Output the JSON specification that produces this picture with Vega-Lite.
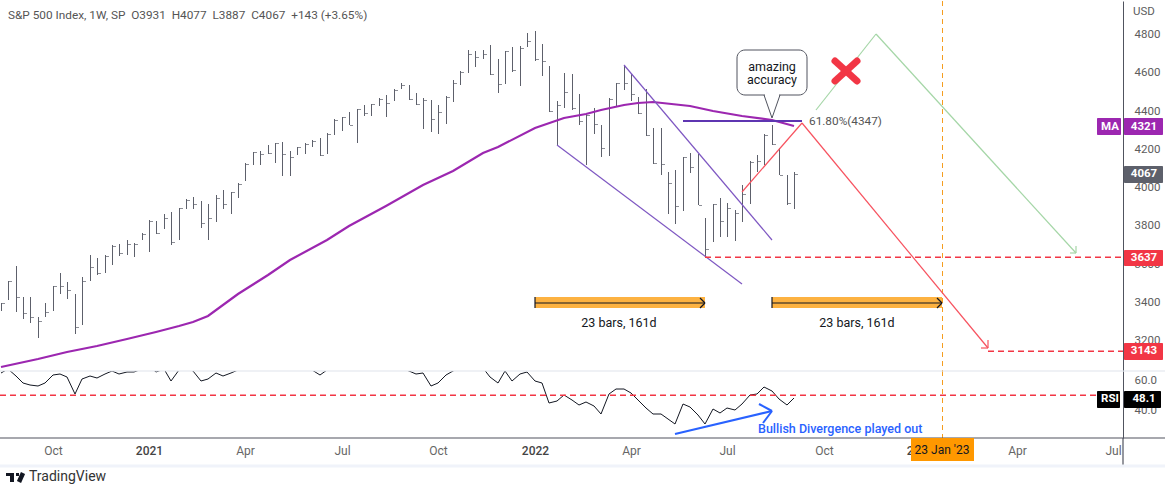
{
"$schema":"https://vega.github.io/schema/vega-lite/v6.json",
"padding":{"left":-4,"top":0,"right":0,"bottom":0},
"background":"#ffffff",
"spacing":0,
"bounds":"flush",
"config":{"view":{"stroke":null},"font":"Roboto","axis":{"grid":false,"ticks":false,"title":null}},
"datasets":{
"bars":[
{"date":"2020-08-17","high":3395,"low":3352,"close":3395,"rsi":64.9},
{"date":"2020-08-24","high":3509,"low":3411,"close":3509,"rsi":67.3},
{"date":"2020-08-31","high":3587,"low":3348,"close":3425,"rsi":62.7},
{"date":"2020-09-07","high":3425,"low":3310,"close":3341,"rsi":58.2},
{"date":"2020-09-14","high":3425,"low":3290,"close":3319,"rsi":56.9},
{"date":"2020-09-21","high":3319,"low":3212,"close":3298,"rsi":55.8},
{"date":"2020-09-28","high":3393,"low":3320,"close":3346,"rsi":58},
{"date":"2020-10-05","high":3481,"low":3353,"close":3481,"rsi":63.1},
{"date":"2020-10-12","high":3549,"low":3442,"close":3484,"rsi":63.8},
{"date":"2020-10-19","high":3502,"low":3414,"close":3460,"rsi":62.2},
{"date":"2020-10-26","high":3442,"low":3233,"close":3266,"rsi":50.9},
{"date":"2020-11-02","high":3528,"low":3278,"close":3509,"rsi":60.5},
{"date":"2020-11-09","high":3645,"low":3510,"close":3582,"rsi":62.9},
{"date":"2020-11-16","high":3627,"low":3542,"close":3550,"rsi":61.3},
{"date":"2020-11-23","high":3645,"low":3552,"close":3641,"rsi":64.2},
{"date":"2020-11-30","high":3697,"low":3594,"close":3693,"rsi":66},
{"date":"2020-12-07","high":3704,"low":3638,"close":3656,"rsi":64},
{"date":"2020-12-14","high":3721,"low":3646,"close":3704,"rsi":65.3},
{"date":"2020-12-21","high":3706,"low":3636,"close":3700,"rsi":65.3},
{"date":"2020-12-28","high":3758,"low":3725,"close":3754,"rsi":67.3},
{"date":"2021-01-04","high":3826,"low":3662,"close":3822,"rsi":69.3},
{"date":"2021-01-11","high":3822,"low":3753,"close":3761,"rsi":65.3},
{"date":"2021-01-18","high":3857,"low":3780,"close":3836,"rsi":67.3},
{"date":"2021-01-25","high":3871,"low":3695,"close":3712,"rsi":59.5},
{"date":"2021-02-01","high":3892,"low":3725,"close":3889,"rsi":66.5},
{"date":"2021-02-08","high":3936,"low":3885,"close":3932,"rsi":68.7},
{"date":"2021-02-15","high":3948,"low":3885,"close":3910,"rsi":66},
{"date":"2021-02-22","high":3927,"low":3787,"close":3810,"rsi":59.5},
{"date":"2021-03-01","high":3910,"low":3725,"close":3836,"rsi":60.7},
{"date":"2021-03-08","high":3957,"low":3819,"close":3944,"rsi":64.7},
{"date":"2021-03-15","high":3983,"low":3885,"close":3913,"rsi":62.7},
{"date":"2021-03-22","high":3975,"low":3857,"close":3972,"rsi":64.9},
{"date":"2021-03-29","high":4019,"low":3944,"close":4017,"rsi":66.5},
{"date":"2021-04-05","high":4124,"low":4033,"close":4120,"rsi":70},
{"date":"2021-04-12","high":4185,"low":4117,"close":4181,"rsi":72},
{"date":"2021-04-19","high":4188,"low":4117,"close":4174,"rsi":72},
{"date":"2021-04-26","high":4218,"low":4173,"close":4176,"rsi":70},
{"date":"2021-05-03","high":4232,"low":4127,"close":4229,"rsi":69},
{"date":"2021-05-10","high":4235,"low":4059,"close":4171,"rsi":71},
{"date":"2021-05-17","high":4188,"low":4059,"close":4158,"rsi":68},
{"date":"2021-05-24","high":4211,"low":4167,"close":4208,"rsi":69},
{"date":"2021-05-31","high":4229,"low":4171,"close":4225,"rsi":70},
{"date":"2021-06-07","high":4244,"low":4211,"close":4241,"rsi":66.7},
{"date":"2021-06-14","high":4256,"low":4164,"close":4166,"rsi":63.1},
{"date":"2021-06-21","high":4281,"low":4174,"close":4277,"rsi":66.7},
{"date":"2021-06-28","high":4354,"low":4274,"close":4350,"rsi":70},
{"date":"2021-07-05","high":4368,"low":4291,"close":4365,"rsi":72},
{"date":"2021-07-12","high":4391,"low":4323,"close":4324,"rsi":73},
{"date":"2021-07-19","high":4410,"low":4232,"close":4406,"rsi":70},
{"date":"2021-07-26","high":4429,"low":4371,"close":4389,"rsi":69},
{"date":"2021-08-02","high":4436,"low":4371,"close":4432,"rsi":71},
{"date":"2021-08-09","high":4464,"low":4425,"close":4462,"rsi":72},
{"date":"2021-08-16","high":4479,"low":4368,"close":4438,"rsi":73},
{"date":"2021-08-23","high":4511,"low":4450,"close":4507,"rsi":71},
{"date":"2021-08-30","high":4544,"low":4512,"close":4532,"rsi":68},
{"date":"2021-09-06","high":4533,"low":4455,"close":4459,"rsi":66},
{"date":"2021-09-13","high":4492,"low":4430,"close":4432,"rsi":63.8},
{"date":"2021-09-20","high":4464,"low":4305,"close":4455,"rsi":64.5},
{"date":"2021-09-27","high":4455,"low":4289,"close":4354,"rsi":56},
{"date":"2021-10-04","high":4429,"low":4279,"close":4392,"rsi":58.2},
{"date":"2021-10-11","high":4474,"low":4331,"close":4471,"rsi":63.3},
{"date":"2021-10-18","high":4558,"low":4446,"close":4542,"rsi":66},
{"date":"2021-10-25","high":4605,"low":4535,"close":4601,"rsi":69},
{"date":"2021-11-01","high":4716,"low":4598,"close":4694,"rsi":73},
{"date":"2021-11-08","high":4711,"low":4629,"close":4678,"rsi":71},
{"date":"2021-11-15","high":4716,"low":4669,"close":4694,"rsi":68},
{"date":"2021-11-22","high":4743,"low":4587,"close":4589,"rsi":62},
{"date":"2021-11-29","high":4669,"low":4493,"close":4537,"rsi":57.8},
{"date":"2021-12-06","high":4711,"low":4540,"close":4710,"rsi":66},
{"date":"2021-12-13","high":4732,"low":4603,"close":4613,"rsi":59.3},
{"date":"2021-12-20","high":4736,"low":4530,"close":4728,"rsi":63.8},
{"date":"2021-12-27","high":4805,"low":4732,"close":4763,"rsi":65.5},
{"date":"2022-01-03","high":4816,"low":4659,"close":4671,"rsi":59.3},
{"date":"2022-01-10","high":4748,"low":4580,"close":4657,"rsi":58.2},
{"date":"2022-01-17","high":4633,"low":4394,"close":4396,"rsi":44.5},
{"date":"2022-01-24","high":4450,"low":4220,"close":4427,"rsi":46},
{"date":"2022-01-31","high":4596,"low":4415,"close":4497,"rsi":49.8},
{"date":"2022-02-07","high":4589,"low":4403,"close":4415,"rsi":46.5},
{"date":"2022-02-14","high":4485,"low":4324,"close":4345,"rsi":43.1},
{"date":"2022-02-21","high":4383,"low":4117,"close":4378,"rsi":45.1},
{"date":"2022-02-28","high":4412,"low":4279,"close":4328,"rsi":42.9},
{"date":"2022-03-07","high":4324,"low":4158,"close":4202,"rsi":37.5},
{"date":"2022-03-14","high":4464,"low":4164,"close":4460,"rsi":50.5},
{"date":"2022-03-21","high":4544,"low":4422,"close":4542,"rsi":53.8},
{"date":"2022-03-28","high":4638,"low":4507,"close":4542,"rsi":53.8},
{"date":"2022-04-04","high":4589,"low":4450,"close":4485,"rsi":51.1},
{"date":"2022-04-11","high":4471,"low":4383,"close":4389,"rsi":46.5},
{"date":"2022-04-18","high":4511,"low":4268,"close":4272,"rsi":41.5},
{"date":"2022-04-25","high":4309,"low":4122,"close":4127,"rsi":37.3},
{"date":"2022-05-02","high":4309,"low":4064,"close":4119,"rsi":37.1},
{"date":"2022-05-09","high":4078,"low":3860,"close":4019,"rsi":34},
{"date":"2022-05-16","high":4089,"low":3808,"close":3901,"rsi":30.7},
{"date":"2022-05-23","high":4157,"low":3875,"close":4155,"rsi":43.8},
{"date":"2022-05-30","high":4178,"low":4075,"close":4106,"rsi":42.2},
{"date":"2022-06-06","high":4174,"low":3904,"close":3906,"rsi":36.7},
{"date":"2022-06-13","high":3838,"low":3638,"close":3674,"rsi":30.9},
{"date":"2022-06-20","high":3913,"low":3714,"close":3910,"rsi":40.5},
{"date":"2022-06-27","high":3941,"low":3740,"close":3821,"rsi":38.2},
{"date":"2022-07-04","high":3915,"low":3739,"close":3892,"rsi":41.1},
{"date":"2022-07-11","high":3880,"low":3719,"close":3866,"rsi":40.2},
{"date":"2022-07-18","high":4009,"low":3819,"close":3962,"rsi":44.2},
{"date":"2022-07-25","high":4136,"low":3913,"close":4132,"rsi":50.2},
{"date":"2022-08-01","high":4166,"low":4080,"close":4136,"rsi":50.5},
{"date":"2022-08-08","high":4276,"low":4114,"close":4272,"rsi":55.1},
{"date":"2022-08-15","high":4323,"low":4220,"close":4223,"rsi":52.7},
{"date":"2022-08-22","high":4204,"low":4061,"close":4063,"rsi":47.1},
{"date":"2022-08-29","high":4061,"low":3904,"close":3918,"rsi":43.1},
{"date":"2022-09-05","high":4077,"low":3887,"close":4067,"rsi":48.1}
],
"ma":[
{"date":"2020-08-17","ma":3059},{"date":"2020-09-21","ma":3102},{"date":"2020-10-19","ma":3137},{"date":"2020-11-16","ma":3169},{"date":"2020-12-14","ma":3205},{"date":"2021-01-11","ma":3240},{"date":"2021-02-01","ma":3271},{"date":"2021-02-15","ma":3296},{"date":"2021-03-01","ma":3326},{"date":"2021-03-29","ma":3443},{"date":"2021-04-26","ma":3540},{"date":"2021-05-17","ma":3617},{"date":"2021-06-21","ma":3723},{"date":"2021-07-12","ma":3796},{"date":"2021-08-16","ma":3902},{"date":"2021-09-20","ma":4011},{"date":"2021-10-18","ma":4084},{"date":"2021-11-15","ma":4178},{"date":"2021-11-29","ma":4209},{"date":"2022-01-03","ma":4306},{"date":"2022-01-31","ma":4361},{"date":"2022-02-21","ma":4384},{"date":"2022-03-07","ma":4403},{"date":"2022-03-28","ma":4429},{"date":"2022-04-11","ma":4439},{"date":"2022-04-25","ma":4442},{"date":"2022-05-30","ma":4425},{"date":"2022-06-20","ma":4397},{"date":"2022-07-18","ma":4371},{"date":"2022-08-15","ma":4350},{"date":"2022-09-05","ma":4321}
],
"lines":[
{"kind":"wedge","date":"2022-01-24","date2":"2022-07-18","price":4220,"price2":3493},
{"kind":"wedge","date":"2022-03-28","date2":"2022-08-15","price":4638,"price2":3721},
{"kind":"red","date":"2022-07-18","date2":"2022-09-12","price":3974,"price2":4336},
{"kind":"red","date":"2022-09-12","date2":"2023-03-07","price":4336,"price2":3160},
{"kind":"red","date":"2023-03-07","date2":"2023-03-07","price":3198,"price2":3160},
{"kind":"red","date":"2023-02-28","date2":"2023-03-07","price":3160,"price2":3160},
{"kind":"green","date":"2022-09-26","date2":"2022-11-21","price":4403,"price2":4800},
{"kind":"green","date":"2022-11-21","date2":"2023-05-29","price":4800,"price2":3657},
{"kind":"green","date":"2023-05-29","date2":"2023-05-29","price":3691,"price2":3657},
{"kind":"green","date":"2023-05-23","date2":"2023-05-29","price":3657,"price2":3657},
{"kind":"black","date":"2022-01-03","date2":"2022-06-13","price":3396,"price2":3396},
{"kind":"black","date":"2022-01-03","date2":"2022-01-03","price":3425,"price2":3368},
{"kind":"black","date":"2022-06-08","date2":"2022-06-13","price":3421,"price2":3396},
{"kind":"black","date":"2022-06-08","date2":"2022-06-13","price":3369,"price2":3396},
{"kind":"black","date":"2022-08-15","date2":"2023-01-23","price":3396,"price2":3396},
{"kind":"black","date":"2022-08-15","date2":"2022-08-15","price":3425,"price2":3368},
{"kind":"black","date":"2023-01-18","date2":"2023-01-23","price":3421,"price2":3396},
{"kind":"black","date":"2023-01-18","date2":"2023-01-23","price":3369,"price2":3396}
],
"dashes":[
{"date":"2022-06-13","date2":"2023-07-12T12:00:00Z","price":3634},
{"date":"2023-03-07","date2":"2023-07-12T12:00:00Z","price":3143}
],
"fib":[{"date":"2022-05-23","date2":"2022-09-12","price":4347}],
"cross":[
{"date":"2022-10-14","date2":"2022-11-03","price":4659,"price2":4554},
{"date":"2022-10-14","date2":"2022-11-03","price":4554,"price2":4659}
],
"bands":[
{"date":"2022-01-03","date2":"2022-06-13","price":3425,"price2":3368},
{"date":"2022-08-15","date2":"2023-01-23","price":3425,"price2":3368}
],
"callout":[{"date":"2022-07-13","date2":"2022-09-17","price":4715,"price2":4480}],
"tailMask":[{"date":"2022-08-09","date2":"2022-08-22","price":4480}],
"tail":[
{"date":"2022-08-08","date2":"2022-08-15","price":4480,"price2":4362},
{"date":"2022-08-15","date2":"2022-08-23","price":4362,"price2":4480}
],
"centerText":[
{"date":"2022-08-15","price":4625,"label":"amazing"},
{"date":"2022-08-15","price":4562,"label":"accuracy"},
{"date":"2022-03-24","price":3289,"label":"23 bars, 161d"},
{"date":"2022-11-03","price":3289,"label":"23 bars, 161d"}
],
"grayText":[
{"date":"2020-08-24","price":4902,"label":"S&P 500 Index, 1W, SP\u00a0\u00a0O3931\u00a0\u00a0H4077\u00a0\u00a0L3887\u00a0\u00a0C4067\u00a0\u00a0+143 (+3.65%)"},
{"date":"2022-09-19","price":4345,"label":"61.80%(4347)"}
],
"usd":[{"date":"2023-08-01","price":4915,"label":"USD"}],
"badges":[
{"kind":"ma","label":"MA","date":"2023-06-18","date2":"2023-07-11","hi":4359,"lo":4274,"labelDate":"2023-06-30","labelPrice":4316},
{"kind":"ma","label":"4321","date":"2023-07-13","date2":"2023-08-19","hi":4359,"lo":4274,"labelDate":"2023-08-01","labelPrice":4316},
{"kind":"last","label":"4067","date":"2023-07-13","date2":"2023-08-19","hi":4110,"lo":4023,"labelDate":"2023-08-01","labelPrice":4066},
{"kind":"level","label":"3637","date":"2023-07-13","date2":"2023-08-19","hi":3673,"lo":3587,"labelDate":"2023-08-01","labelPrice":3630},
{"kind":"level","label":"3143","date":"2023-07-13","date2":"2023-08-19","hi":3184,"lo":3097,"labelDate":"2023-08-01","labelPrice":3141}
],
"rsiLines":[
{"kind":"sep","date":"2020-08-16T08:00:00Z","date2":"2023-08-21","rsi":66,"rsi2":66},
{"kind":"base","date":"2020-08-16T08:00:00Z","date2":"2023-08-21","rsi":21.33,"rsi2":21.33},
{"kind":"base","date":"2023-07-12T12:00:00Z","date2":"2023-07-12T12:00:00Z","rsi":21.33,"rsi2":3.5}
],
"footBand":[{"date":"2020-08-16T08:00:00Z","date2":"2023-08-21","rsi":2.67}],
"blueArrow":[
{"date":"2022-05-16","date2":"2022-08-15","rsi":24.2,"rsi2":39.3},
{"date":"2022-08-03","date2":"2022-08-15","rsi":44.2,"rsi2":39.3},
{"date":"2022-08-07","date2":"2022-08-15","rsi":31.5,"rsi2":39.3}
],
"rsiDash":[{"date":"2020-08-16T08:00:00Z","date2":"2023-06-18","rsi":49.8}],
"rsiBadges":[
{"label":"RSI","date":"2023-06-18","date2":"2023-07-10","hi":52.7,"lo":41.5,"labelDate":"2023-06-30","labelRsi":47.2},
{"label":"48.1","date":"2023-07-13","date2":"2023-08-17","hi":52.7,"lo":41.5,"labelDate":"2023-08-01","labelRsi":47.2}
],
"dateBox":[{"date":"2022-12-24","date2":"2023-02-22","hi":21.1,"lo":6.2,"labelDate":"2023-01-23","labelRsi":13,"label":"23 Jan '23"}],
"marker":[{"date":"2023-01-23"}],
"blueText":[{"date":"2022-08-02","rsi":27.2,"label":"Bullish Divergence played out"}],
"brandText":[{"date":"2020-09-13","rsi":-5,"label":"TradingView"}],
"logoBlocks":[
{"date":"2020-08-22","date2":"2020-08-30","hi":-1.8,"lo":-4},
{"date":"2020-08-26","date2":"2020-08-30","hi":-4,"lo":-7.8},
{"date":"2020-08-31","date2":"2020-09-03","hi":-1.8,"lo":-4}
],
"logoSlash":[{"date":"2020-09-07","date2":"2020-09-03","hi":-1.8,"lo":-7.8}]
},
"vconcat":[
{
"width":1123,"height":370,
"layer":[
{"data":{"name":"bars"},"mark":{"type":"rule","color":"#5d606b","strokeWidth":1,"xOffset":0.5},
"encoding":{
"x":{"field":"date","type":"temporal","axis":null,"scale":{"domain":["2020-08-16T08:00:00Z","2023-07-12T12:00:00Z"],"round":true,"nice":false}},
"y":{"field":"high","type":"quantitative","scale":{"domain":[3037.9,4972.6],"nice":false,"zero":false,"round":true},
"axis":{"orient":"right","values":[3200,3400,3600,3800,4000,4200,4400,4600,4800],"format":"d","domain":true,"domainColor":"#50535e","labelPadding":11,"labelFontSize":11.5,"labelColor":"#5d5d5d","labelBaseline":"middle"}},
"y2":{"field":"low"}}},
{"data":{"name":"bars"},"mark":{"type":"tick","orient":"horizontal","size":3,"thickness":1,"xOffset":2.5,"yOffset":0.5,"color":"#5d606b"},
"encoding":{"x":{"field":"date","type":"temporal","axis":null},"y":{"field":"close","type":"quantitative"}}},
{"data":{"name":"marker"},"mark":{"type":"rule","color":"#f59d1f","strokeWidth":1,"strokeDash":[5,4],"xOffset":0.5},
"encoding":{"x":{"field":"date","type":"temporal","axis":null}}},
{"data":{"name":"bands"},"mark":{"type":"rect","color":"#fdb241"},
"encoding":{"x":{"field":"date","type":"temporal","axis":null},"x2":{"field":"date2"},"y":{"field":"price","type":"quantitative"},"y2":{"field":"price2"}}},
{"data":{"name":"ma"},"mark":{"type":"line","color":"#9c27b0","strokeWidth":2.2},
"encoding":{"x":{"field":"date","type":"temporal","axis":null},"y":{"field":"ma","type":"quantitative"}}},
{"data":{"name":"lines"},"mark":{"type":"rule","strokeWidth":1.2},
"encoding":{"x":{"field":"date","type":"temporal","axis":null},"x2":{"field":"date2"},"y":{"field":"price","type":"quantitative"},"y2":{"field":"price2"},
"color":{"field":"kind","type":"nominal","legend":null,"scale":{"domain":["wedge","red","green","black","ma","last","level","sep","base"],"range":["#7e57c2","#f7525f","#a5d6a7","#131722","#9c27b0","#5d606b","#f23645","#e0e3eb","#50535e"]}}}},
{"data":{"name":"dashes"},"mark":{"type":"rule","color":"#f23645","strokeWidth":1.3,"strokeDash":[6,4],"yOffset":0.25},
"encoding":{"x":{"field":"date","type":"temporal","axis":null},"x2":{"field":"date2"},"y":{"field":"price","type":"quantitative"}}},
{"data":{"name":"fib"},"mark":{"type":"rule","color":"#5e35b1","strokeWidth":2},
"encoding":{"x":{"field":"date","type":"temporal","axis":null},"x2":{"field":"date2"},"y":{"field":"price","type":"quantitative"}}},
{"data":{"name":"cross"},"mark":{"type":"rule","color":"#f23645","strokeWidth":7,"strokeCap":"round"},
"encoding":{"x":{"field":"date","type":"temporal","axis":null},"x2":{"field":"date2"},"y":{"field":"price","type":"quantitative"},"y2":{"field":"price2"}}},
{"data":{"name":"callout"},"mark":{"type":"rect","fill":"#ffffff","stroke":"#50535e","strokeWidth":1,"cornerRadius":8},
"encoding":{"x":{"field":"date","type":"temporal","axis":null},"x2":{"field":"date2"},"y":{"field":"price","type":"quantitative"},"y2":{"field":"price2"}}},
{"data":{"name":"tailMask"},"mark":{"type":"rule","color":"#ffffff","strokeWidth":2.5},
"encoding":{"x":{"field":"date","type":"temporal","axis":null},"x2":{"field":"date2"},"y":{"field":"price","type":"quantitative"}}},
{"data":{"name":"tail"},"mark":{"type":"rule","color":"#50535e","strokeWidth":1},
"encoding":{"x":{"field":"date","type":"temporal","axis":null},"x2":{"field":"date2"},"y":{"field":"price","type":"quantitative"},"y2":{"field":"price2"}}},
{"data":{"name":"centerText"},"mark":{"type":"text","align":"center","baseline":"middle","fontSize":12.5,"color":"#131722"},
"encoding":{"x":{"field":"date","type":"temporal","axis":null},"y":{"field":"price","type":"quantitative"},"text":{"field":"label"}}},
{"data":{"name":"grayText"},"mark":{"type":"text","align":"left","baseline":"middle","fontSize":11.8,"color":"#555555"},
"encoding":{"x":{"field":"date","type":"temporal","axis":null},"y":{"field":"price","type":"quantitative"},"text":{"field":"label"}}},
{"data":{"name":"usd"},"mark":{"type":"text","align":"center","baseline":"middle","fontSize":11.5,"color":"#5d5d5d"},
"encoding":{"x":{"field":"date","type":"temporal","axis":null},"y":{"field":"price","type":"quantitative"},"text":{"field":"label"}}},
{"data":{"name":"badges"},"mark":{"type":"rect","cornerRadius":1},
"encoding":{"x":{"field":"date","type":"temporal","axis":null},"x2":{"field":"date2"},"y":{"field":"hi","type":"quantitative"},"y2":{"field":"lo"},
"color":{"field":"kind","type":"nominal","legend":null}}},
{"data":{"name":"badges"},"mark":{"type":"text","align":"center","baseline":"middle","fontSize":11.5,"fontWeight":"bold","color":"#ffffff"},
"encoding":{"x":{"field":"labelDate","type":"temporal","axis":null},"y":{"field":"labelPrice","type":"quantitative"},"text":{"field":"label"}}}
]
},
{
"width":1123,"height":67,
"layer":[
{"data":{"name":"bars"},"mark":{"type":"line","color":"#131722","strokeWidth":1,"clip":true},
"encoding":{
"x":{"field":"date","type":"temporal","scale":{"domain":["2020-08-16T08:00:00Z","2023-07-12T12:00:00Z"],"round":true,"nice":false},
"axis":{"orient":"bottom","domain":false,"labelPadding":7,"labelFontSize":12,"labelBaseline":"top","labelColor":{"condition":{"test":"utcmonth(datum.value)==0","value":"#444444"},"value":"#666666"},"labelFontWeight":{"condition":{"test":"utcmonth(datum.value)==0","value":500},"value":400},"labelExpr":"utcmonth(datum.value)==0 ? utcFormat(datum.value,'%Y') : utcFormat(datum.value,'%b')",
"values":[{"year":2020,"month":10,"date":5,"utc":true},{"year":2021,"month":1,"date":4,"utc":true},{"year":2021,"month":4,"date":5,"utc":true},{"year":2021,"month":7,"date":5,"utc":true},{"year":2021,"month":10,"date":4,"utc":true},{"year":2022,"month":1,"date":3,"utc":true},{"year":2022,"month":4,"date":4,"utc":true},{"year":2022,"month":7,"date":4,"utc":true},{"year":2022,"month":10,"date":3,"utc":true},{"year":2023,"month":1,"date":2,"utc":true},{"year":2023,"month":4,"date":3,"utc":true},{"year":2023,"month":7,"date":3,"utc":true}]}},
"y":{"field":"rsi","type":"quantitative","scale":{"domain":[21.33,66],"nice":false,"zero":false,"round":true},
"axis":{"orient":"right","values":[40,60],"format":".1f","domain":true,"domainColor":"#50535e","labelPadding":11,"labelFontSize":11.5,"labelColor":"#5d5d5d","labelBaseline":"middle"}}}},
{"data":{"name":"marker"},"mark":{"type":"rule","color":"#f59d1f","strokeWidth":1,"strokeDash":[5,4],"xOffset":0.5},
"encoding":{"x":{"field":"date","type":"temporal"}}},
{"data":{"name":"rsiLines"},"mark":{"type":"rule","strokeWidth":1.2},
"encoding":{"x":{"field":"date","type":"temporal"},"x2":{"field":"date2"},"y":{"field":"rsi","type":"quantitative"},"y2":{"field":"rsi2"},
"color":{"field":"kind","type":"nominal","legend":null}}},
{"data":{"name":"footBand"},"mark":{"type":"rule","color":"#f0f3fa","strokeWidth":3},
"encoding":{"x":{"field":"date","type":"temporal"},"x2":{"field":"date2"},"y":{"field":"rsi","type":"quantitative"}}},
{"data":{"name":"blueArrow"},"mark":{"type":"rule","color":"#2962ff","strokeWidth":2},
"encoding":{"x":{"field":"date","type":"temporal"},"x2":{"field":"date2"},"y":{"field":"rsi","type":"quantitative"},"y2":{"field":"rsi2"}}},
{"data":{"name":"rsiDash"},"mark":{"type":"rule","color":"#f23645","strokeWidth":1.3,"strokeDash":[6,4],"yOffset":0.25},
"encoding":{"x":{"field":"date","type":"temporal"},"x2":{"field":"date2"},"y":{"field":"rsi","type":"quantitative"}}},
{"data":{"name":"rsiBadges"},"mark":{"type":"rect","color":"#000000","cornerRadius":1},
"encoding":{"x":{"field":"date","type":"temporal"},"x2":{"field":"date2"},"y":{"field":"hi","type":"quantitative"},"y2":{"field":"lo"}}},
{"data":{"name":"rsiBadges"},"mark":{"type":"text","align":"center","baseline":"middle","fontSize":11.5,"fontWeight":"bold","color":"#ffffff"},
"encoding":{"x":{"field":"labelDate","type":"temporal"},"y":{"field":"labelRsi","type":"quantitative"},"text":{"field":"label"}}},
{"data":{"name":"dateBox"},"mark":{"type":"rect","color":"#ff9800"},
"encoding":{"x":{"field":"date","type":"temporal"},"x2":{"field":"date2"},"y":{"field":"hi","type":"quantitative"},"y2":{"field":"lo"}}},
{"data":{"name":"dateBox"},"mark":{"type":"text","align":"center","baseline":"middle","fontSize":12,"color":"#131722"},
"encoding":{"x":{"field":"labelDate","type":"temporal"},"y":{"field":"labelRsi","type":"quantitative"},"text":{"field":"label"}}},
{"data":{"name":"blueText"},"mark":{"type":"text","align":"left","baseline":"middle","fontSize":12.5,"fontWeight":500,"color":"#2962ff"},
"encoding":{"x":{"field":"date","type":"temporal"},"y":{"field":"rsi","type":"quantitative"},"text":{"field":"label"}}},
{"data":{"name":"brandText"},"mark":{"type":"text","align":"left","baseline":"middle","fontSize":14,"color":"#333333"},
"encoding":{"x":{"field":"date","type":"temporal"},"y":{"field":"rsi","type":"quantitative"},"text":{"field":"label"}}},
{"data":{"name":"logoBlocks"},"mark":{"type":"rect","color":"#131722"},
"encoding":{"x":{"field":"date","type":"temporal"},"x2":{"field":"date2"},"y":{"field":"hi","type":"quantitative"},"y2":{"field":"lo"}}},
{"data":{"name":"logoSlash"},"mark":{"type":"rule","color":"#131722","strokeWidth":4.5},
"encoding":{"x":{"field":"date","type":"temporal"},"x2":{"field":"date2"},"y":{"field":"hi","type":"quantitative"},"y2":{"field":"lo"}}}
]
}
]
}
